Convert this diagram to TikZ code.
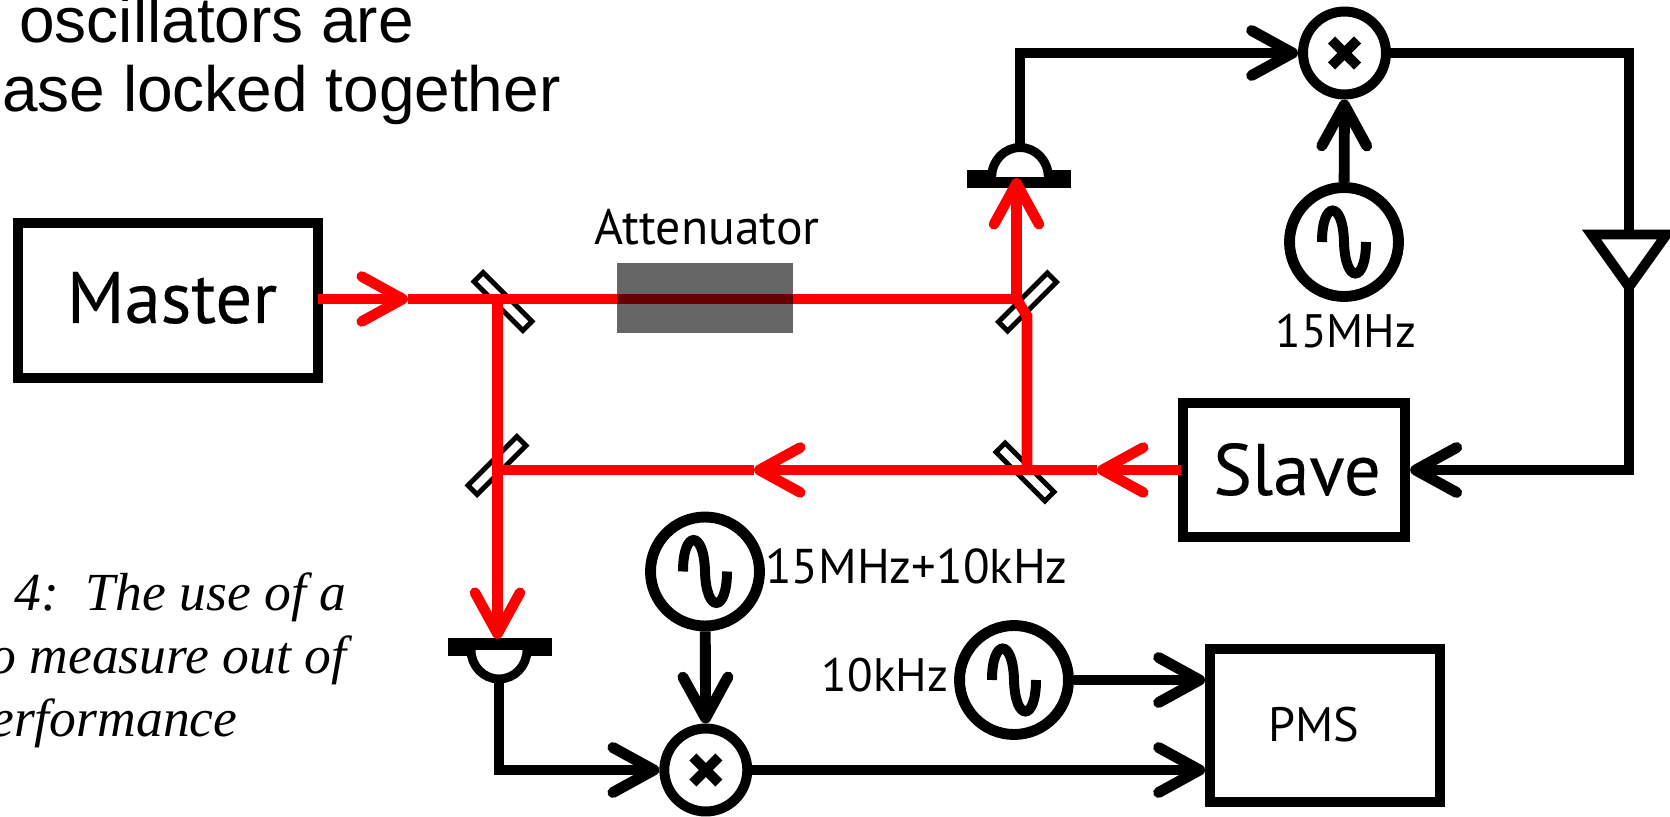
\documentclass[tikz,border=0pt]{standalone}
\usepackage{fontspec}
\usetikzlibrary{arrows.meta}
\setmainfont{PT Sans}
\newfontfamily\headfont{Liberation Sans}
\newfontfamily\notefont{Liberation Serif}
\newfontfamily\boxfont[FakeBold=0.25]{PT Sans}

\tikzset{
    >={Straight Barb[round,length=0.82cm,width=0.9cm]},
    wire/.style={draw=black,line width=6.2pt},
    beam/.style={draw=red,line width=6pt},
    laser/.style={rectangle,draw=black,line width=5.67pt,inner sep=0pt},
    osc/.style={circle,draw=black,line width=6.2pt,minimum size=2.18cm,inner sep=0pt},
    mixer/.style={circle,draw=black,line width=5.67pt,minimum size=1.66cm,inner sep=0pt},
    mirror/.style={rectangle,draw=black,fill=white,line width=2.83pt,minimum width=1.38cm,minimum height=0.26cm,inner sep=0pt},
    detbar/.style={rectangle,fill=black,minimum width=2.08cm,minimum height=0.36cm,inner sep=0pt,outer sep=0pt},
    dome/.style={draw=black,fill=white,line width=5.1pt},
    bigtext/.style={font=\boxfont\fontsize{41.5}{41.5}\selectfont,inner sep=0pt,anchor=base},
    smalltext/.style={font=\fontsize{26.7}{26.7}\selectfont,inner sep=0pt,anchor=base},
    headtext/.style={font=\headfont\fontsize{36.4}{36.4}\selectfont,inner sep=0pt,anchor=base west},
    notetext/.style={font=\notefont\itshape\fontsize{30.5}{30.5}\selectfont,inner sep=0pt,anchor=base west},
    sinewave/.pic={\draw[line width=5.67pt] (-22,0) .. controls (-22,-42) and (-1,-42) .. (0,0) .. controls (1,42) and (22,42) .. (22,0);},
    crossmark/.pic={\draw[line width=5.67pt] (-13,-13) -- (13,13) (-13,13) -- (13,-13);},
}

\begin{document}
\begin{tikzpicture}[x=0.02cm,y=-0.02cm]
    \useasboundingbox (0,0) rectangle (1670,817);

    \node[headtext] (head1) at (19,42.5) {oscillators are};
    \node[headtext] (head2) at (2,112) {ase locked together};
    \node[notetext] (note1) at (14,610) {4:\ \ The use of a};
    \node[notetext] (note2) at (-11,673.3) {o measure out of};
    \node[notetext] (note3) at (-10,736.7) {erformance};

    \node[laser,minimum width=6cm,minimum height=3.1cm] (master) at (168.3,300.8) {};
    \node[laser,minimum width=4.45cm,minimum height=2.67cm] (slave) at (1294,470) {};
    \node[laser,minimum width=4.6cm,minimum height=3.07cm] (pms) at (1325,725.5) {};
    \node[bigtext] (mastertext) at (172,323) {Master};
    \node[bigtext] (slavetext) at (1297,495) {Slave};
    \node[smalltext,font=\fontsize{27.5}{27.5}\selectfont] (pmstext) at (1313.5,741.7) {PMS};

    \node[mirror,rotate=-45] (bs1) at (503,301.5) {};
    \node[mirror,rotate=45] (bs2) at (1027.5,302) {};
    \node[mirror,rotate=45] (bs3) at (497,465.5) {};
    \node[mirror,rotate=-45] (bs4) at (1025,472) {};

    \node[detbar] (det1) at (1019,179) {};
    \path[dome] (991.7,177) arc[start angle=180,end angle=360,x radius=28.3,y radius=29.5];
    \coordinate (det1top) at (1020,148);
    \node[detbar] (det2) at (499.6,647.3) {};
    \path[dome] (471,650) arc[start angle=180,end angle=0,x radius=28,y radius=29];
    \coordinate (det2end) at (499,679);

    \node[mixer] (mix1) at (1344.5,53) {};
    \node[mixer] (mix2) at (705.8,770) {};
    \pic at (mix1) {crossmark};
    \pic at (mix2) {crossmark};

    \node[osc] (osc1) at (1344,242) {};
    \node[osc] (osc2) at (705,571.5) {};
    \node[osc] (osc3) at (1014,680) {};
    \pic at (osc1) {sinewave};
    \pic at (osc2) {sinewave};
    \pic at (osc3) {sinewave};
    \node[smalltext] (osc1text) at (1346,348) {15MHz};
    \node[smalltext,font=\fontsize{27.8}{27.8}\selectfont] (osc2text) at (916.5,583) {15MHz+10kHz};
    \node[smalltext] (osc3text) at (885,691.7) {10kHz};

    \coordinate (amp1) at (1591.5,234.5);
    \coordinate (amp2) at (1666.5,234.5);
    \coordinate (amp3) at (1629,287);
    \coordinate (corner1) at (1629,53);
    \coordinate (amptop) at (1629,234.5);

    \draw[wire,->] (det1top) |- (mix1);
    \draw[wire,->] (osc1) -- (mix1);
    \draw[wire] (mix1) -- (corner1) -- (amptop);
    \draw[wire,line width=5.67pt] (amp1) -- (amp2) -- (amp3) -- cycle;
    \draw[wire,->] (amp3) |- (slave);
    \draw[wire,->] (det2end) |- (mix2);
    \draw[wire,->] (osc2) -- (mix2);
    \draw[wire,->] (mix2) -- (mix2 -| pms.west);
    \draw[wire,->] (osc3) -- (osc3 -| pms.west);

    \coordinate (a1) at (318,299);
    \coordinate (a2) at (408,299);
    \coordinate (a3) at (497.5,299);
    \coordinate (a4) at (1016.5,299);
    \coordinate (a5) at (1016.5,178);
    \coordinate (a6) at (1027,316);
    \coordinate (b1) at (1181,470);
    \coordinate (b2) at (1097,470);
    \coordinate (b3) at (1027,470);
    \coordinate (b4) at (754,470);
    \coordinate (b5) at (497.5,470);
    \coordinate (c1) at (497.5,639);

    \draw[beam,->] (a1) -- (a2);
    \draw[beam] (a2) -- (a3) -- (a4);
    \draw[beam,->] (a4) -- (a5);
    \draw[beam] (a4) -- (a6) -- (b3);
    \draw[beam,->] (b1) -- (b2);
    \draw[beam,->] (b2) -- (b4);
    \draw[beam] (b4) -- (b5);
    \draw[beam,->] (a3) -- (c1);

    \node[fill=black,fill opacity=0.6,minimum width=3.52cm,minimum height=1.41cm,inner sep=0pt] (att) at (705,298) {};
    \node[smalltext,font=\fontsize{28.3}{28.3}\selectfont] (atttext) at (707,245) {Attenuator};
\end{tikzpicture}
\end{document}
